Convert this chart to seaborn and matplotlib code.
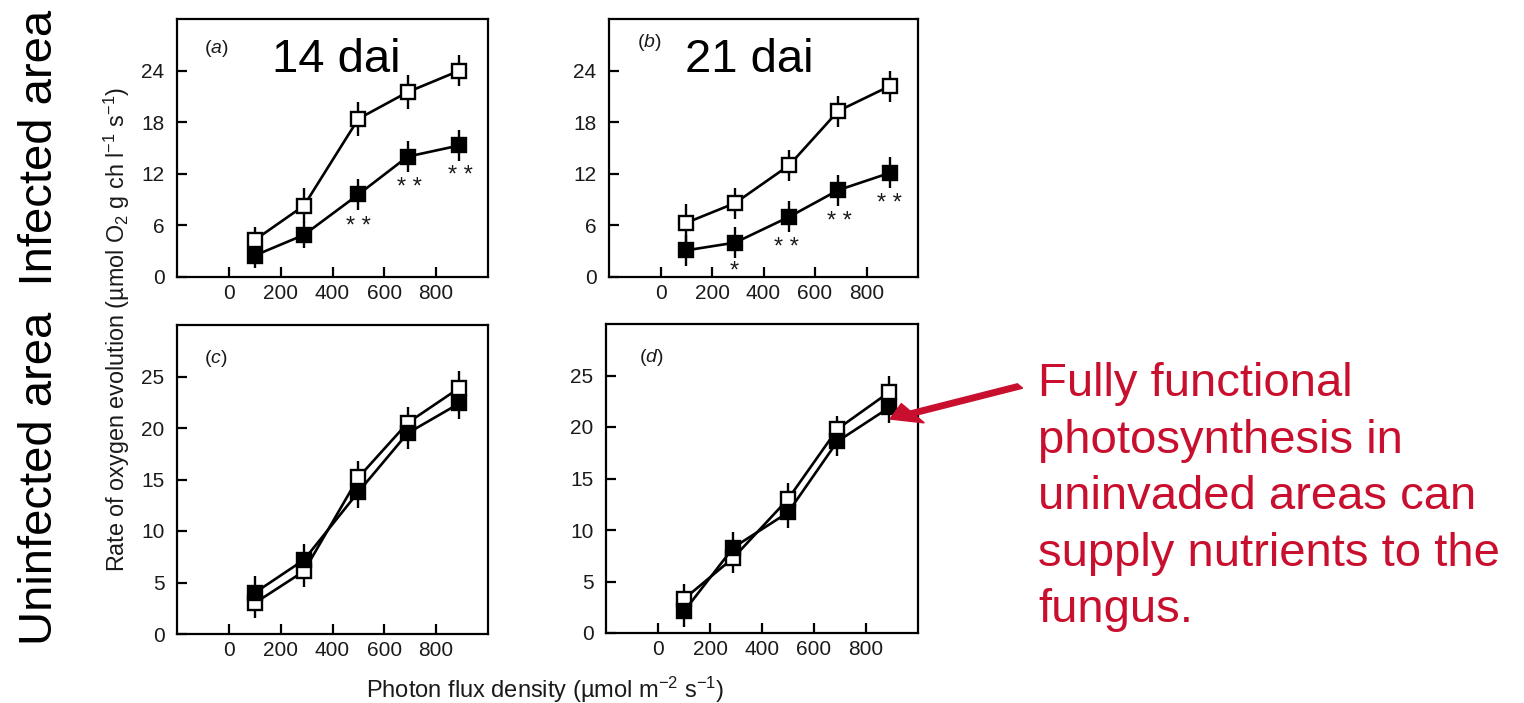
import matplotlib
matplotlib.use("Agg")
import matplotlib.pyplot as plt
import seaborn as sns
import pandas as pd

sns.set_theme(style="white")
plt.rcParams['font.family'] = ['Liberation Sans', 'DejaVu Sans']
plt.rcParams['mathtext.fontset'] = 'custom'
plt.rcParams['mathtext.rm'] = 'Liberation Sans'
plt.rcParams['mathtext.it'] = 'Liberation Sans:italic'
plt.rcParams['mathtext.bf'] = 'Liberation Sans:bold'

# ---------------- data ----------------
photon_flux = [100, 290, 500, 690, 890]

# (a) infected area, 14 dai
a_open = [4.3, 8.3, 18.4, 21.5, 24.0]
a_open_err = [1.5, 2.0, 2.0, 2.0, 1.8]
a_filled = [2.5, 4.9, 9.6, 14.0, 15.3]
a_filled_err = [1.4, 1.5, 1.8, 1.8, 1.8]
a_star_x = [500, 695, 895]
a_star_y = [6.3, 10.9, 12.2]
a_star_txt = ["* *", "* *", "* *"]

# (b) infected area, 21 dai
b_open = [6.3, 8.6, 13.0, 19.3, 22.2]
b_open_err = [2.2, 1.8, 1.8, 1.8, 1.8]
b_filled = [3.1, 4.0, 7.0, 10.1, 12.1]
b_filled_err = [1.8, 1.8, 1.8, 1.8, 1.8]
b_star_x = [285, 490, 693, 888]
b_star_y = [1.1, 3.9, 6.9, 9.0]
b_star_txt = ["*", "* *", "* *", "* *"]

# (c) uninfected area, 14 dai
c_open = [3.0, 6.1, 15.2, 20.5, 23.9]
c_open_err = [1.4, 1.5, 1.6, 1.5, 1.6]
c_filled = [4.0, 7.2, 13.8, 19.5, 22.4]
c_filled_err = [1.6, 1.5, 1.6, 1.5, 1.5]

# (d) uninfected area, 21 dai
d_open = [3.3, 7.3, 13.0, 19.8, 23.4]
d_open_err = [1.5, 1.5, 1.6, 1.3, 1.6]
d_filled = [2.1, 8.3, 11.7, 18.6, 21.9]
d_filled_err = [1.5, 1.5, 1.5, 1.4, 1.5]

x_ticks = [0, 200, 400, 600, 800]
y_ticks_top = [0, 6, 12, 18, 24]
y_ticks_bottom = [0, 5, 10, 15, 20, 25]

W, H = 1524, 703
fig = plt.figure(figsize=(W / 100, H / 100), dpi=100)
fig.patch.set_facecolor("white")


def box(l, t, r, b):
    return [l / W, 1 - b / H, (r - l) / W, (b - t) / H]


ax_a = fig.add_axes(box(177, 19, 488, 277))
ax_b = fig.add_axes(box(609, 19, 918, 277))
ax_c = fig.add_axes(box(177, 325, 488, 634))
ax_d = fig.add_axes(box(606, 324, 918, 633))

panels = [
    (ax_a, a_open, a_open_err, a_filled, a_filled_err, y_ticks_top, "a", (0.125, 0.885)),
    (ax_b, b_open, b_open_err, b_filled, b_filled_err, y_ticks_top, "b", (0.13, 0.91)),
    (ax_c, c_open, c_open_err, c_filled, c_filled_err, y_ticks_bottom, "c", (0.125, 0.893)),
    (ax_d, d_open, d_open_err, d_filled, d_filled_err, y_ticks_bottom, "d", (0.145, 0.89)),
]

ink = "#1a1a1a"
for ax, yo, eo, yf, ef, yt, lab, labpos in panels:
    df_o = pd.DataFrame({"flux": photon_flux, "rate": yo, "err": eo})
    df_f = pd.DataFrame({"flux": photon_flux, "rate": yf, "err": ef})
    ax.errorbar(df_o["flux"], df_o["rate"], yerr=df_o["err"], fmt="none",
                ecolor="black", elinewidth=1.7, capsize=0, zorder=1)
    ax.errorbar(df_f["flux"], df_f["rate"], yerr=df_f["err"], fmt="none",
                ecolor="black", elinewidth=1.7, capsize=0, zorder=1)
    sns.lineplot(data=df_o, x="flux", y="rate", ax=ax, color="black",
                 errorbar=None, marker="s", markersize=10.5,
                 markerfacecolor="white", markeredgecolor="black",
                 markeredgewidth=1.7, linewidth=1.9, zorder=3)
    sns.lineplot(data=df_f, x="flux", y="rate", ax=ax, color="black",
                 errorbar=None, marker="s", markersize=10.5,
                 markerfacecolor="black", markeredgecolor="black",
                 markeredgewidth=1.7, linewidth=1.9, zorder=4)
    ax.set_xlim(-200, 1000)
    ax.set_ylim(0, 30)
    ax.set_xticks(x_ticks)
    ax.set_yticks(yt)
    ax.set_xlabel("")
    ax.set_ylabel("")
    ax.tick_params(direction="in", length=7, width=1.6, labelsize=15,
                   bottom=True, left=True, top=False, right=False,
                   colors="black", labelcolor=ink)
    ax.tick_params(axis="y", pad=9)
    ax.tick_params(axis="x", pad=5)
    for s in ax.spines.values():
        s.set_color("black")
        s.set_linewidth(1.6)
    ax.set_facecolor("white")
    ax.text(labpos[0], labpos[1], r"($\it{" + lab + r"}$)", transform=ax.transAxes,
            fontsize=14, ha="center", va="center", color=ink)

for ax, sx, sy, st in [(ax_a, a_star_x, a_star_y, a_star_txt),
                       (ax_b, b_star_x, b_star_y, b_star_txt)]:
    for x, y, t in zip(sx, sy, st):
        ax.text(x, y - 0.5, t, ha="center", va="center", fontsize=17, color=ink)

# day labels
fig.text(272 / W, 1 - 72 / H, "14 dai", fontsize=34, ha="left", va="baseline", color="black")
fig.text(685 / W, 1 - 72 / H, "21 dai", fontsize=34, ha="left", va="baseline", color="black")

# axis labels
fig.text(117 / W, 1 - 329 / H,
         r"Rate of oxygen evolution (µmol O$_2$ g ch l$^{-1}$ s$^{-1}$)",
         rotation=90, ha="center", va="center", fontsize=16.8, color=ink)
fig.text(545 / W, 1 - 690 / H,
         r"Photon flux density (µmol m$^{-2}$ s$^{-1}$)",
         ha="center", va="center", fontsize=17, color=ink)

# side label
fig.text(40 / W, 1 - 327 / H, "Uninfected area  Infected area", rotation=90,
         ha="center", va="center", fontsize=34, color="black")

# red annotation
red = "#C8102E"
fig.text(1038 / W, 1 - 362 / H,
         "Fully functional\nphotosynthesis in\nuninvaded areas can\nsupply nutrients to the\nfungus.",
         ha="left", va="top", fontsize=34, color=red, linespacing=1.37)
fig.patches.append(matplotlib.patches.FancyArrow(
    1020 / W, 1 - 386 / H, (890 - 1020) / W, (386 - 419) / H,
    width=5 / H, head_width=22 / H, head_length=26 / W,
    length_includes_head=True, color=red, transform=fig.transFigure, figure=fig))

fig.savefig("out.png", dpi=100, facecolor="white")
